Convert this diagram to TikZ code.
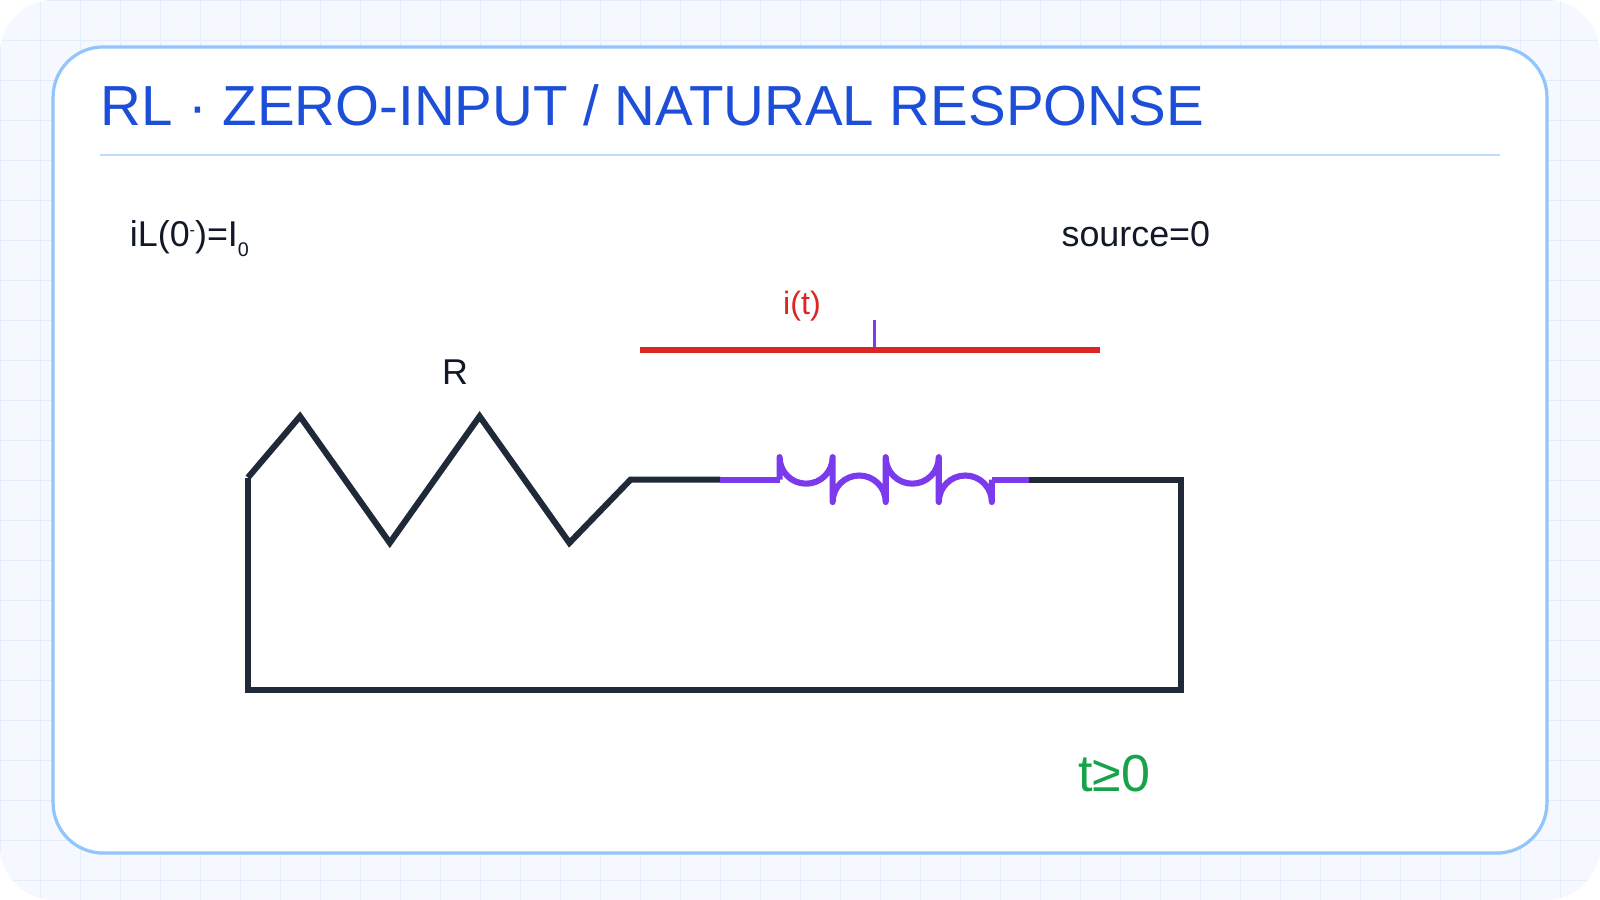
\documentclass[tikz,border=0pt]{standalone}
\usepackage{fontspec}
\setmainfont{Liberation Sans}
\definecolor{bg}{HTML}{F5F9FF}
\definecolor{gridc}{HTML}{E3EDFB}
\definecolor{cardb}{HTML}{93C5FD}
\definecolor{rule}{HTML}{BFDBFE}
\definecolor{titc}{HTML}{1D4ED8}
\definecolor{ink}{HTML}{111827}
\definecolor{wire}{HTML}{1F2937}
\definecolor{coil}{HTML}{7C3AED}
\definecolor{redc}{HTML}{DC2626}
\definecolor{grn}{HTML}{16A34A}
\begin{document}
\begin{tikzpicture}[x=0.02cm,y=-0.02cm,
  lbl/.style={anchor=base west,inner sep=0,text=ink,font=\fontsize{20}{24}\selectfont},
  w/.style={draw=wire,line width=3.4pt,line join=miter},
  cw/.style={draw=coil,line width=3.4pt}]
\useasboundingbox (0,0) rectangle (1568,882);
\fill[bg,rounded corners=30] (0,0) rectangle (1568,882);
\begin{scope}
\clip[rounded corners=30] (0,0) rectangle (1568,882);
\foreach \i in {0,...,40} \draw[gridc,line width=0.5pt] (\i*39.2,0) -- (\i*39.2,882);
\foreach \i in {0,...,23} \draw[gridc,line width=0.5pt] (0,\i*39.2) -- (1568,\i*39.2);
\end{scope}
\draw[cardb,fill=white,line width=1.8pt,rounded corners=28] (52,46) rectangle (1516,836);
\node[anchor=base west,inner sep=0,text=titc,font=\fontsize{31.5}{36}\selectfont] (title) at (98,123) {RL · ZERO-INPUT / NATURAL RESPONSE};
\draw[rule,line width=1.2pt] (98,152) -- (1470,152);
\node[lbl] (init) at (127,242) {iL(0\raisebox{0.6ex}{\fontsize{9}{9}\selectfont -})=I\raisebox{-0.5ex}{\fontsize{11}{11}\selectfont 0}};
\node[lbl] (src) at (1040,242) {source=0};
\node[anchor=base,inner sep=0,text=redc,font=\fontsize{18}{22}\selectfont] (it) at (786,308) {i(t)};
\node[anchor=base,inner sep=0,text=ink,font=\fontsize{20}{24}\selectfont] (R) at (446,377) {R};
\node[anchor=base,inner sep=0,text=grn,font=\fontsize{29}{34}\selectfont] (t) at (1092,776) {t≥0};
\coordinate (rl) at (627,343); \coordinate (rr) at (1078,343);
\draw[redc,line width=3.4pt] (rl) -- (rr);
\coordinate (tk1) at (857,314); \coordinate (tk2) at (857,340);
\draw[coil,line width=2pt] (tk1) -- (tk2);
% circuit
\coordinate (a) at (243,468); \coordinate (b) at (618,470);
\draw[w] (a) -- (294,408) -- (382,532) -- (470,408) -- (558,532) -- (b) -- (706,470);
\draw[w] (1008,470) -- (1157,470) -- (1157,676) -- (243,676) -- (a);
\draw[cw] (706,470) -- (764,470);
\draw[cw] (972,470) -- (1008,470);
\draw[cw,line join=round] (764,470) -- (764,448) arc[start angle=180,end angle=0,radius=26]
  -- (816,492) arc[start angle=180,end angle=360,radius=26]
  -- (868,448) arc[start angle=180,end angle=0,radius=26]
  -- (920,492) arc[start angle=180,end angle=360,radius=26] -- (972,470);
\end{tikzpicture}
\end{document}
